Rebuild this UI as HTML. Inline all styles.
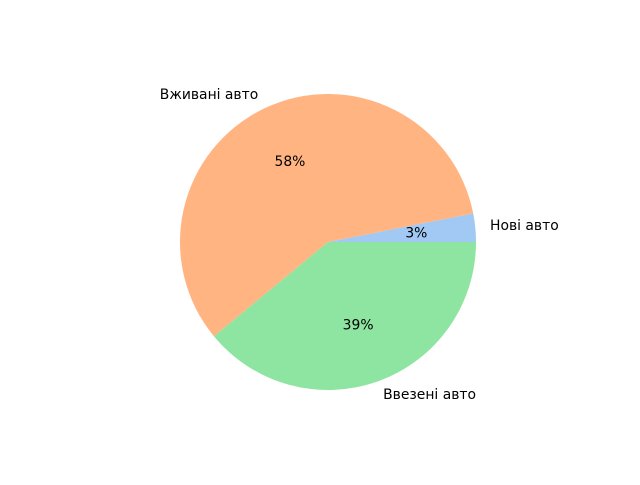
<!DOCTYPE html>
<html><head><meta charset="utf-8"><style>
body{margin:0;background:#fff}
svg text{font-family:"DejaVu Sans","Liberation Sans",sans-serif;font-size:13.9px;fill:#000}
</style></head><body>
<svg id="chart" width="640" height="480" viewBox="0 0 640 480" xmlns="http://www.w3.org/2000/svg"></svg>
<script>
const categories = ["Нові авто", "Вживані авто", "Ввезені авто"];
const values = [3.1, 57.9, 39.0];
const pctLabels = ["3%", "58%", "39%"];
const colors = ["#a1c9f4", "#ffb482", "#8de5a1"];
const cx = 328, cy = 242, r = 148;
const svg = document.getElementById('chart');
const ns = 'http://www.w3.org/2000/svg';
const total = values.reduce((a,b)=>a+b,0);
let start = 0;
function pt(a, rr){ return [cx + rr*Math.cos(a), cy - rr*Math.sin(a)]; }
values.forEach((v,i)=>{
  const a0 = start, a1 = start + v/total*2*Math.PI;
  start = a1;
  const p0 = pt(a0,r), p1 = pt(a1,r);
  const large = (a1-a0) > Math.PI ? 1 : 0;
  const path = document.createElementNS(ns,'path');
  path.setAttribute('d', `M${cx},${cy} L${p0[0]},${p0[1]} A${r},${r} 0 ${large} 0 ${p1[0]},${p1[1]} Z`);
  path.setAttribute('fill', colors[i]);
  
  
  svg.appendChild(path);
  const mid = (a0+a1)/2;
  const lp = pt(mid, r*1.1);
  const t = document.createElementNS(ns,'text');
  t.textContent = categories[i];
  t.setAttribute('x', lp[0]);
  t.setAttribute('y', lp[1]);
  t.setAttribute('dominant-baseline','central');
  t.setAttribute('text-anchor', Math.cos(mid) >= 0 ? 'start' : 'end');
  
  
  svg.appendChild(t);
  const pp = pt(mid, r*0.6);
  const tp = document.createElementNS(ns,'text');
  tp.textContent = pctLabels[i];
  tp.setAttribute('x', pp[0]);
  tp.setAttribute('y', pp[1]);
  tp.setAttribute('dominant-baseline','central');
  tp.setAttribute('text-anchor','middle');
  
  
  svg.appendChild(tp);
});
</script>
</body></html>
